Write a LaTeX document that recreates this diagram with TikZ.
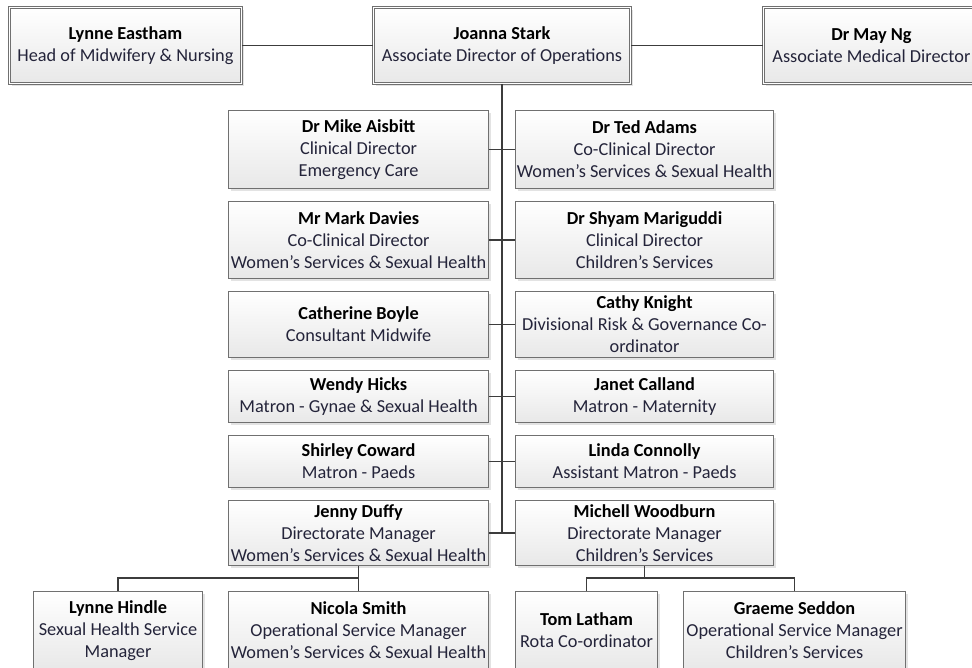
\documentclass[tikz,border=0pt]{standalone}
\usepackage{fontspec}
\setmainfont{Carlito}
\usetikzlibrary{shadows}
\definecolor{boxline}{RGB}{112,112,112}
\definecolor{wire}{RGB}{60,60,60}
\definecolor{roletext}{RGB}{36,36,58}
\definecolor{shadegray}{RGB}{232,232,232}
\newcommand{\who}[1]{{\color{black}\bfseries #1}}
\tikzset{
  unit/.style={draw=boxline, line width=1.1pt, top color=white, bottom color=shadegray,
    anchor=north west, align=center, inner sep=0pt, text=roletext,
    font=\fontsize{18.3}{22}\selectfont,
    drop shadow={shadow xshift=2.5pt, shadow yshift=-2.5pt, fill=black!22}},
  topunit/.style={unit, line width=0.9pt, double=white, double distance=1.6pt},
  wireline/.style={draw=wire, line width=1.7pt}
}
\begin{document}
\begin{tikzpicture}[x=1pt,y=-1pt]
\useasboundingbox (0,0) rectangle (972,668);
\clip (0,0) rectangle (972,668);

% senior team
\node[topunit, minimum width=232, minimum height=76] (eastham) at (9,7)
  {\who{Lynne Eastham}\\Head of Midwifery \& Nursing};
\node[topunit, minimum width=257, minimum height=76] (stark) at (373,7)
  {\who{Joanna Stark}\\Associate Director of Operations};
\node[topunit, minimum width=216, minimum height=76] (ng) at (763,7)
  {\who{Dr May Ng}\\Associate Medical Director};

% directorate leads
\node[unit, minimum width=260, minimum height=78] (aisbitt) at (228,110)
  {\who{Dr Mike Aisbitt}\\Clinical Director\\Emergency Care};
\node[unit, minimum width=258, minimum height=78] (adams) at (515,110)
  {\who{Dr Ted Adams}\\Co-Clinical Director\\Women’s Services \& Sexual Health};
\node[unit, minimum width=260, minimum height=77] (davies) at (228,201)
  {\who{Mr Mark Davies}\\Co-Clinical Director\\Women’s Services \& Sexual Health};
\node[unit, minimum width=258, minimum height=77] (mariguddi) at (515,201)
  {\who{Dr Shyam Mariguddi}\\Clinical Director\\Children’s Services};
\node[unit, minimum width=260, minimum height=66] (boyle) at (228,291)
  {\who{Catherine Boyle}\\Consultant Midwife};
\node[unit, minimum width=258, minimum height=66] (knight) at (515,291)
  {\who{Cathy Knight}\\Divisional Risk \& Governance Co-\\ordinator};
\node[unit, minimum width=260, minimum height=52] (hicks) at (228,370)
  {\who{Wendy Hicks}\\Matron - Gynae \& Sexual Health};
\node[unit, minimum width=258, minimum height=52] (calland) at (515,370)
  {\who{Janet Calland}\\Matron - Maternity};
\node[unit, minimum width=260, minimum height=52] (coward) at (228,435)
  {\who{Shirley Coward}\\Matron - Paeds};
\node[unit, minimum width=258, minimum height=52] (connolly) at (515,435)
  {\who{Linda Connolly}\\Assistant Matron - Paeds};
\node[unit, minimum width=260, minimum height=65] (duffy) at (228,500)
  {\who{Jenny Duffy}\\Directorate Manager\\Women’s Services \& Sexual Health};
\node[unit, minimum width=258, minimum height=65] (woodburn) at (515,500)
  {\who{Michell Woodburn}\\Directorate Manager\\Children’s Services};

% service managers
\node[unit, minimum width=169, minimum height=78] (hindle) at (33,591)
  {\who{Lynne Hindle}\\Sexual Health Service\\Manager};
\node[unit, minimum width=260, minimum height=78] (smith) at (228,591)
  {\who{Nicola Smith}\\Operational Service Manager\\Women’s Services \& Sexual Health};
\node[unit, minimum width=142, minimum height=78] (latham) at (515,591)
  {\who{Tom Latham}\\Rota Co-ordinator};
\node[unit, minimum width=222, minimum height=78] (seddon) at (683,591)
  {\who{Graeme Seddon}\\Operational Service Manager\\Children’s Services};

% connectors
\coordinate (trunkend) at (stark.south |- duffy.east);
\coordinate (leftbus) at (duffy.south |- 0,578);
\coordinate (rightbus) at (woodburn.south |- 0,578);

\draw[wireline] (eastham.east) -- (stark.west);
\draw[wireline] (stark.east) -- (ng.west);
\draw[wireline] (stark.south) -- (trunkend);
\draw[wireline] (aisbitt.east) -- (adams.west);
\draw[wireline] (davies.east) -- (mariguddi.west);
\draw[wireline] (boyle.east) -- (knight.west);
\draw[wireline] (hicks.east) -- (calland.west);
\draw[wireline] (coward.east) -- (connolly.west);
\draw[wireline] (duffy.east) -- (woodburn.west);

\draw[wireline] (duffy.south) -- (smith.north);
\draw[wireline] (hindle.north) |- (leftbus);
\draw[wireline] (woodburn.south) -- (rightbus);
\draw[wireline] (latham.north) |- (rightbus) -| (seddon.north);
\end{tikzpicture}
\end{document}
